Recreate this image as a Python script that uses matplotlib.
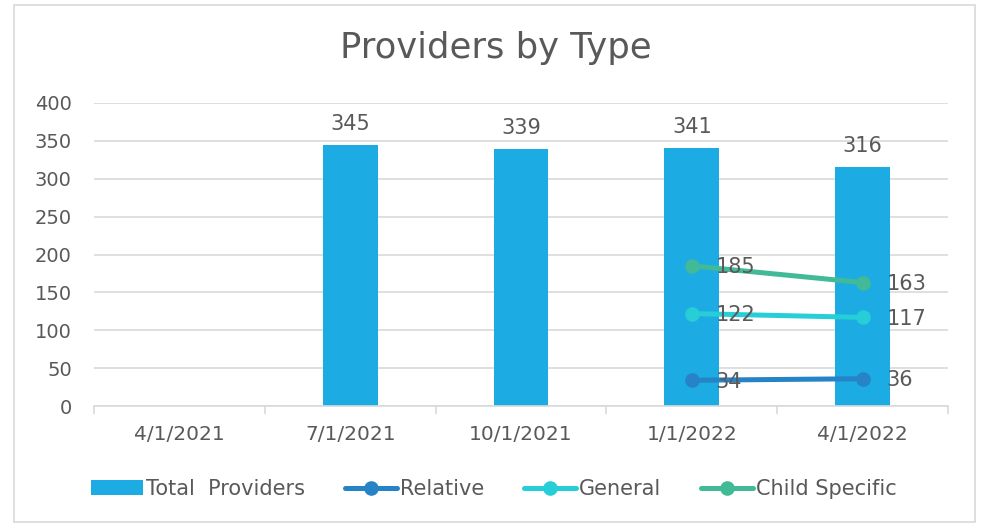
import numpy as np
import matplotlib
matplotlib.use('Agg')
import matplotlib.pyplot as plt
from matplotlib.patches import Rectangle

categories = ['4/1/2021', '7/1/2021', '10/1/2021', '1/1/2022', '4/1/2022']
total_providers = [np.nan, 345, 339, 341, 316]
relative = [np.nan, np.nan, np.nan, 34, 36]
general = [np.nan, np.nan, np.nan, 122, 117]
child_specific = [np.nan, np.nan, np.nan, 185, 163]

BAR_COLOR = '#1CABE2'
TEXT = '#595959'
GRID = '#D9D9D9'

plt.rcParams['font.family'] = ['DejaVu Sans']

fig = plt.figure(figsize=(9.82, 5.27), dpi=100)
fig.patches.append(Rectangle((14 / 982, 5 / 527), 961 / 982, 517 / 527,
                             transform=fig.transFigure, fill=False,
                             edgecolor='#D9D9D9', linewidth=1.2))

ax = fig.add_axes([94 / 982, (527 - 406) / 527, 854 / 982, 303 / 527])
x = np.arange(len(categories))

bar_h = ax.bar(x, total_providers, width=0.32, color=BAR_COLOR, zorder=2,
               label='Total  Providers')
for xi, v in zip(x, total_providers):
    if not np.isnan(v):
        ax.annotate(f'{v:.0f}', (xi, v), xytext=(0, 8), textcoords='offset points',
                    ha='center', va='bottom', fontsize=15, color=TEXT)

series = [('Relative', relative, '#2683C6'),
          ('General', general, '#27CED7'),
          ('Child Specific', child_specific, '#42BA97')]
handles = [bar_h]
for name, vals, col in series:
    ln, = ax.plot(x, vals, color=col, linewidth=3.6, marker='o', markersize=9.5,
                  solid_capstyle='round', label=name, zorder=3)
    handles.append(ln)
    for xi, v in zip(x, vals):
        if not np.isnan(v):
            ax.annotate(f'{v:.0f}', (xi, v), xytext=(17, -1), textcoords='offset points',
                        ha='left', va='center', fontsize=15, color=TEXT, zorder=4)

ax.set_xlim(-0.5, len(categories) - 0.5)
ax.set_ylim(0, 400)
ax.set_yticks(range(0, 401, 50))
ax.yaxis.grid(True, color=GRID, linewidth=1.2, zorder=0)
ax.set_axisbelow(True)
for s in ['top', 'right', 'left']:
    ax.spines[s].set_visible(False)
ax.spines['bottom'].set_color(GRID)
ax.spines['bottom'].set_linewidth(1.2)

ax.set_xticks(x)
ax.set_xticklabels(categories)
ax.set_xticks(np.arange(-0.5, len(categories)), minor=True)
ax.tick_params(axis='x', which='major', length=0, pad=14, labelsize=14.5, labelcolor=TEXT)
ax.tick_params(axis='x', which='minor', length=6, color=GRID, width=1.2)
ax.tick_params(axis='y', length=0, pad=16, labelsize=14, labelcolor=TEXT)

fig.text(496 / 982, 1 - 48 / 527, 'Providers by Type', ha='center', va='center',
         fontsize=25.5, color=TEXT)

leg = fig.legend(handles=handles, loc='center', bbox_to_anchor=(494 / 982, 1 - 489 / 527),
                 ncol=4, frameon=False, fontsize=15, handlelength=2.5,
                 handletextpad=0.15, columnspacing=1.9)
for t in leg.get_texts():
    t.set_color(TEXT)

fig.savefig('out.png', dpi=100)
